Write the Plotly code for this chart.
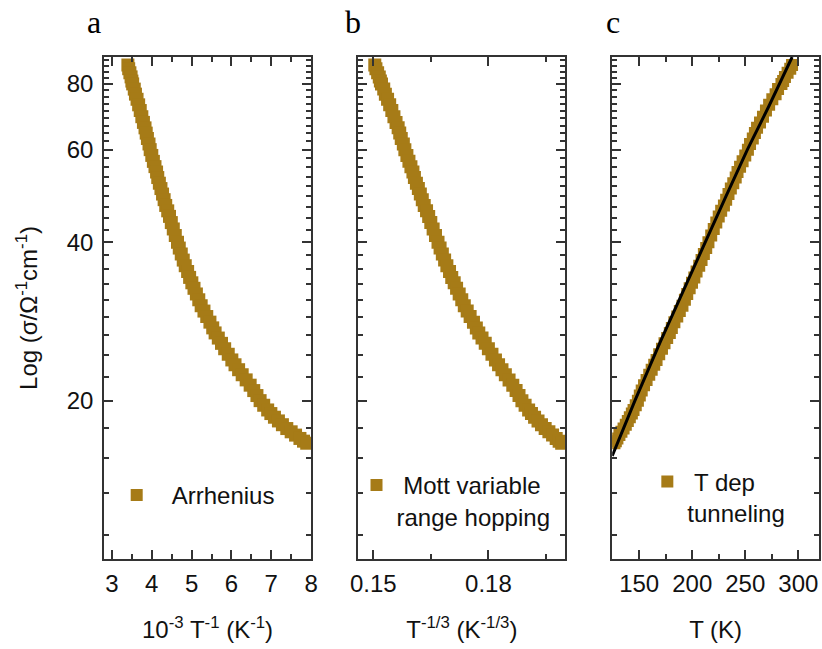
import math
import plotly.graph_objects as go

# ---------------- data ----------------
# conductivity (S/cm), shared by the three panels
sigma = [86.9, 85.5, 84.0, 82.5, 81.0, 80.0, 78.2, 76.5, 74.8, 73.0,
         71.2, 69.3, 67.6, 66.0, 64.5, 63.0, 61.5, 60.0, 58.5, 57.0,
         55.7, 54.4, 53.1, 51.8, 50.6, 49.4, 48.2, 47.0, 45.9, 44.8,
         43.6, 42.4, 41.2, 40.0, 39.0, 38.0, 37.0, 36.1, 35.2, 34.3,
         33.5, 32.7, 31.9, 31.1, 30.3, 29.6, 28.9, 28.2, 27.5, 26.9,
         26.3, 25.7, 25.1, 24.5, 23.9, 23.4, 22.9, 22.4, 21.9, 21.4,
         20.9, 20.45, 20.0, 19.6, 19.2, 18.9, 18.6, 18.3, 18.0, 17.7,
         17.45, 17.2, 16.95, 16.75, 16.6]

# panel a : 10^-3 T^-1 (K^-1)
inv_T = [3.40, 3.42, 3.45, 3.48, 3.50, 3.52, 3.56, 3.59, 3.63, 3.67,
         3.71, 3.75, 3.79, 3.83, 3.86, 3.89, 3.93, 3.96, 4.00, 4.04,
         4.08, 4.12, 4.15, 4.19, 4.23, 4.27, 4.31, 4.35, 4.40, 4.445,
         4.49, 4.54, 4.59, 4.645, 4.69, 4.74, 4.79, 4.84, 4.90, 4.95,
         5.006, 5.06, 5.12, 5.18, 5.24, 5.31, 5.38, 5.46, 5.53, 5.59,
         5.67, 5.75, 5.83, 5.92, 6.01, 6.09, 6.18, 6.27, 6.37, 6.47,
         6.56, 6.64, 6.72, 6.81, 6.91, 6.99, 7.08, 7.18, 7.28, 7.39,
         7.50, 7.61, 7.72, 7.81, 7.89]

# panel b : T^-1/3 (K^-1/3)
T_inv_cbrt = [0.15037, 0.15067, 0.15111, 0.15154, 0.15183, 0.15212, 0.15270, 0.15313, 0.15370, 0.15425,
              0.15481, 0.15536, 0.15591, 0.15646, 0.15687, 0.15727, 0.15781, 0.15821, 0.15874, 0.15927,
              0.15979, 0.16031, 0.16070, 0.16122, 0.16173, 0.16224, 0.16275, 0.16326, 0.16386, 0.16442,
              0.16497, 0.16558, 0.16619, 0.16685, 0.16739, 0.16798, 0.16857, 0.16916, 0.16985, 0.17043,
              0.17107, 0.17169, 0.17237, 0.17304, 0.17370, 0.17446, 0.17522, 0.17609, 0.17684, 0.17748,
              0.17832, 0.17916, 0.17998, 0.18091, 0.18182, 0.18263, 0.18352, 0.18440, 0.18537, 0.18634,
              0.18720, 0.18796, 0.18872, 0.18955, 0.19047, 0.19121, 0.19202, 0.19292, 0.19382, 0.19478,
              0.19575, 0.19671, 0.19765, 0.19842, 0.19908]

# panel c : T (K)
T_K = [294.1, 292.4, 289.9, 287.4, 285.7, 284.1, 280.9, 278.6, 275.5, 272.5,
       269.5, 266.7, 263.9, 261.1, 259.1, 257.1, 254.5, 252.5, 250.0, 247.5,
       245.1, 242.7, 241.0, 238.7, 236.4, 234.2, 232.0, 229.9, 227.3, 225.0,
       222.7, 220.3, 217.9, 215.3, 213.2, 211.0, 208.8, 206.6, 204.1, 202.0,
       199.8, 197.6, 195.3, 193.1, 190.8, 188.3, 185.9, 183.2, 180.8, 178.9,
       176.4, 173.9, 171.5, 168.9, 166.4, 164.2, 161.8, 159.5, 157.0, 154.6,
       152.4, 150.6, 148.8, 146.8, 144.7, 143.1, 141.2, 139.3, 137.4, 135.3,
       133.3, 131.4, 129.5, 128.0, 126.7]

# fit line of panel c
fit_T = [124.6, 146, 170, 191, 212, 232, 252, 272, 294.2]
fit_sigma = [15.7, 20.0, 25.9, 32.2, 40.0, 49.0, 60.0, 72.4, 90.0]

# ticks
y_major = [20, 40, 60, 80]
y_minor = [b + 20 * k / 9 for b in (0, 20, 40, 60, 80) for k in range(1, 9)
           if 10 < b + 20 * k / 9 < 90]
a_major = [3, 4, 5, 6, 7, 8]
a_minor = [3.5, 4.5, 5.5, 6.5, 7.5]
b_major = [0.15, 0.18]
b_minor = [0.165, 0.195]
c_major = [150, 200, 250, 300]
c_minor = [175, 225, 275]

# ---------------- style ----------------
GOLD = "#A67B17"
AX = "#333333"
TXT = "#111111"
FONT = "Liberation Sans, Arial, sans-serif"

fig = go.Figure()
mk = dict(symbol="square", size=13, color=GOLD, line=dict(width=0))
mkc = dict(symbol="square", size=12, color=GOLD, line=dict(width=0))
fig.add_trace(go.Scatter(x=inv_T, y=sigma, mode="markers", marker=mk,
                         name="Arrhenius", xaxis="x", yaxis="y", legend="legend"))
fig.add_trace(go.Scatter(x=T_inv_cbrt, y=sigma, mode="markers", marker=mk,
                         name="&nbsp;Mott variable<br>range hopping",
                         xaxis="x2", yaxis="y2", legend="legend2"))
fig.add_trace(go.Scatter(x=T_K, y=sigma, mode="markers", marker=mkc,
                         name="&nbsp;T dep<br>tunneling",
                         xaxis="x3", yaxis="y3", legend="legend3"))
fig.add_trace(go.Scatter(x=fit_T, y=fit_sigma, mode="lines",
                         line=dict(color="black", width=3),
                         showlegend=False, xaxis="x3", yaxis="y3"))


def axis(**kw):
    d = dict(showline=True, linecolor=AX, linewidth=1.5, mirror="ticks",
             ticks="inside", ticklen=9, tickwidth=1.5, tickcolor=AX,
             showgrid=False, zeroline=False,
             tickfont=dict(family=FONT, size=24, color=TXT),
             title_font=dict(family=FONT, size=24, color=TXT))
    d.update(kw)
    return d


def minor(vals):
    return dict(tickmode="array", tickvals=vals, ticks="inside", ticklen=5,
                tickwidth=1.5, tickcolor=AX, showgrid=False)


# geometry in reference pixels
W = 714.7
H = 502.0


def px(xr):
    return (xr - 104) / W


def py(yr_):
    return (559 - yr_) / H


dom_a = [0.0, px(311)]
dom_b = [px(358.3), px(565)]
dom_c = [px(612), 1.0]

yr = [1.0, math.log10(90)]
LFONT = dict(family=FONT, size=24, color=TXT)

fig.update_layout(
    width=822, height=649,
    margin=dict(l=104, r=3.3, t=57, b=90, autoexpand=False),
    paper_bgcolor="white", plot_bgcolor="white",
    xaxis=axis(domain=dom_a, anchor="y", range=[2.8, 8], tickmode="array",
               tickvals=a_major, minor=minor(a_minor), ticklabelstandoff=2,
               title=dict(text="10<sup>-3</sup> T<sup>-1</sup> (K<sup>-1</sup>)", standoff=26)),
    xaxis2=axis(domain=dom_b, anchor="y2", range=[0.1461, 0.2], tickmode="array",
                tickvals=b_major, ticktext=["0.15", "0.18"], minor=minor(b_minor),
                ticklabelstandoff=2,
                title=dict(text="T<sup>-1/3</sup> (K<sup>-1/3</sup>)", standoff=26)),
    xaxis3=axis(domain=dom_c, anchor="y3", range=[124.6, 319.5], tickmode="array",
                tickvals=c_major, minor=minor(c_minor), ticklabelstandoff=2,
                title=dict(text="T (K)", standoff=26)),
    yaxis=axis(type="log", range=yr, anchor="x", tickmode="array", tickvals=y_major,
               minor=minor(y_minor), ticklabelstandoff=4,
               title=dict(text="Log (σ/Ω<sup>-1</sup>cm<sup>-1</sup>)", standoff=22)),
    yaxis2=axis(type="log", range=yr, anchor="x2", matches="y", tickmode="array",
                tickvals=y_major, minor=minor(y_minor), showticklabels=False),
    yaxis3=axis(type="log", range=yr, anchor="x3", matches="y", tickmode="array",
                tickvals=y_major, minor=minor(y_minor), showticklabels=False),
    legend=dict(x=px(101.7), y=py(473), xanchor="left", yanchor="top",
                bgcolor="rgba(0,0,0,0)", font=LFONT, itemwidth=60, valign="top",
                itemsizing="constant"),
    legend2=dict(x=px(356.4), y=py(463), xanchor="left", yanchor="top",
                 bgcolor="rgba(0,0,0,0)", font=LFONT, itemwidth=30, valign="top",
                 itemsizing="constant"),
    legend3=dict(x=px(647.1), y=py(459.4), xanchor="left", yanchor="top",
                 bgcolor="rgba(0,0,0,0)", font=LFONT, itemwidth=30, valign="top",
                 itemsizing="constant"),
    showlegend=True,
)

letters = [("a", 94), ("b", 353), ("c", 613)]
for t, xr in letters:
    fig.add_annotation(text=t, x=px(xr), y=py(22), xref="paper", yref="paper",
                       showarrow=False, xanchor="center", yanchor="middle",
                       font=dict(family="Liberation Serif, Times New Roman, serif", size=32, color="black"))

# remove the browser's default 8px body margin so the figure starts at (0, 0)
fig.write_html("out.html", config={"displayModeBar": False},
               post_script="document.body.style.margin='0px';")
